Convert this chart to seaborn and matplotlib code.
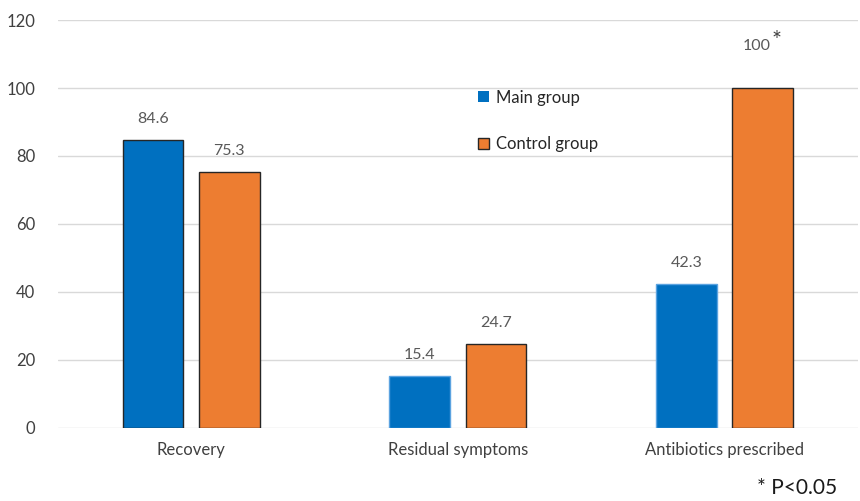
import matplotlib
matplotlib.use("Agg")
import matplotlib.pyplot as plt
from matplotlib.patches import Patch
import seaborn as sns
import pandas as pd

categories = ["Recovery", "Residual symptoms", "Antibiotics prescribed"]
groups = ["Main group", "Control group"]
main_values = [84.6, 15.4, 42.3]
control_values = [75.3, 24.7, 100]
significant = [False, False, True]  # control-group values marked with *
y_ticks = [0, 20, 40, 60, 80, 100, 120]

df = pd.DataFrame({
    "category": categories * 2,
    "group": [groups[0]] * 3 + [groups[1]] * 3,
    "value": main_values + control_values,
})

blue = "#0070C0"
orange = "#ED7D31"

sns.set_theme(style="white")
plt.rcParams["font.family"] = ["Lato", "DejaVu Sans"]

fig = plt.figure(figsize=(8.6, 5.01), dpi=100)
ax = fig.add_axes([0.067, 0.146, 0.931, 0.814])

sns.barplot(data=df, x="category", y="value", hue="group", order=categories,
            hue_order=groups, palette=[blue, orange], width=0.57, gap=0.2,
            saturation=1, ax=ax, legend=False)

main_bars, control_bars = ax.containers[0], ax.containers[1]
main_edges = ["#262626", "#5BA3E0", "#5BA3E0"]
for bar, ec in zip(main_bars, main_edges):
    bar.set_edgecolor(ec)
    bar.set_linewidth(1.0)
for bar in control_bars:
    bar.set_edgecolor("#262626")
    bar.set_linewidth(1.0)

label_color = "#595959"
for container, vals, stars in ((main_bars, main_values, [False] * 3),
                               (control_bars, control_values, significant)):
    for bar, v, s in zip(container, vals, stars):
        x = bar.get_x() + bar.get_width() / 2
        txt = f"{v:g}"
        if s:
            ax.annotate(txt, (x, bar.get_height()), xytext=(5.5, 25),
                        textcoords="offset points", ha="right", va="bottom",
                        fontsize=11.5, color=label_color)
            ax.annotate("*", (x, bar.get_height()), xytext=(6, 27),
                        textcoords="offset points", ha="left", va="bottom",
                        fontsize=17, color="#404040")
        else:
            ax.annotate(txt, (x, bar.get_height()), xytext=(0, 10),
                        textcoords="offset points", ha="center", va="bottom",
                        fontsize=11.5, color=label_color)

ax.set_ylim(0, 120)
ax.set_xlim(-0.5, 2.5)
ax.set_yticks(y_ticks)
ax.yaxis.grid(True, color="#D9D9D9", linewidth=1)
ax.set_axisbelow(True)
for sp in ax.spines.values():
    sp.set_visible(False)
ax.tick_params(axis="both", length=0, labelsize=12, colors="#404040")
ax.tick_params(axis="y", pad=16)
ax.tick_params(axis="x", pad=10)
ax.set_xlabel("")
ax.set_ylabel("")

handles = [Patch(facecolor=blue, edgecolor="none", label=groups[0]),
           Patch(facecolor=orange, edgecolor="#262626", linewidth=1.0, label=groups[1])]
ax.legend(handles=handles, loc="upper left", bbox_to_anchor=(0.515, 0.85),
          frameon=False, handlelength=0.65, handleheight=0.65, handletextpad=0.4,
          labelspacing=1.85, fontsize=12, labelcolor="#262626", borderpad=0)

fig.text(0.88, 0.025, "* P<0.05", fontsize=15, color="#1a1a1a", ha="left", va="center")

fig.savefig("out.png", dpi=100)
